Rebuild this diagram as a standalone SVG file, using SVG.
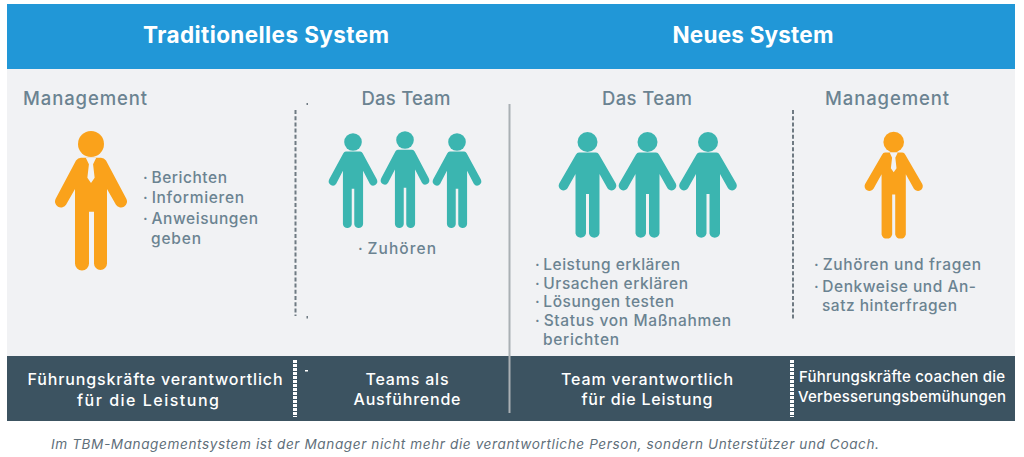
<svg xmlns="http://www.w3.org/2000/svg" xmlns:xlink="http://www.w3.org/1999/xlink" width="1024" height="457" viewBox="0 0 1024 457">
<style>
text{font-family:"Inter","Open Sans","Liberation Sans",sans-serif}
.h{font-size:22.5px;font-weight:700;fill:#fff;text-anchor:middle}
.c{font-size:18.5px;font-weight:500;fill:#6b8391;text-anchor:middle}
.c0{font-size:18.5px;font-weight:500;fill:#6b8391}
.b{font-size:15.5px;font-weight:500;fill:#6b8391}
.f{font-size:16px;font-weight:500;fill:#fff;text-anchor:middle}
.fs{font-size:15px}
.n{font-size:13.6px;font-style:italic;fill:#5f6f7a}
.o{fill:#faa21b}.t{fill:#3bb5b0}
.dash{fill:none;stroke:#6f7a82;stroke-width:2;stroke-dasharray:4 2.2}
.wd{fill:none;stroke:#fff;stroke-width:4;stroke-dasharray:3 1}
</style>
<defs>
<path id="body" d="M-8.5 10.5H8.5Q10.5 10.5 11.5 12.5L28.3 41.5A4.8 4.8 0 0 1 20 46.3L12 32V91.5A5.4 5.4 0 0 1 1.5 91.5V52H-1.5V91.5A5.4 5.4 0 0 1 -12 91.5V32L-20 46.3A4.8 4.8 0 0 1 -28.3 41.5L-11.500 12.5Q-10.5 10.5 -8.5 10.500Z"/>
<path id="tie" fill="#f1f2f4" d="M-4 10.5H4L1.6 15.5L2.8 26L0 30L-2.8 26L-1.6 15.5Z"/>
</defs>
<rect width="1024" height="457" fill="#fff"/>
<rect id="header" x="7" y="4" width="1008" height="65" fill="#2197d7"/>
<rect id="panel" x="7" y="69" width="1008" height="287" fill="#f1f2f4"/>
<rect id="footer" x="7" y="356" width="1008" height="65" fill="#3c5361"/>

<g id="connectors">
<path d="M509.5 104V413" stroke="#aab0b4" stroke-width="2" fill="none"/>
<path class="dash" d="M295.5 110V316"/>
<path class="dash" d="M793 110V320"/>
<path class="wd" d="M295 360V417"/>
<path class="wd" d="M792 360V417"/>
<rect x="306.500" y="103" width="1.500" height="2" fill="#6f7a82"/>
<rect x="306.500" y="316" width="1.500" height="2.500" fill="#6f7a82"/>
<rect x="305" y="370" width="3" height="1.500" fill="#fff"/>
</g>

<g id="title-left"><text class="h" x="266" y="43" textLength="246">Traditionelles System</text></g>
<g id="title-right"><text class="h" x="753" y="43" textLength="161">Neues System</text></g>

<g id="col-management-left">
<text class="c0" x="23" y="105" textLength="124">Management</text>
<g class="o">
<circle cx="91" cy="144" r="13"/>
<path d="M81 157.700H101Q104 157.700 106 160.500L126.200 198.500A6 6 0 0 1 115.800 204.500L107 189V263.500A6.500 6.500 0 0 1 94 263.500 V211.700H89V263.500A7 7 0 0 1 75 263.500V189L66.200 204.500A6 6 0 0 1 55.800 198.500L76 160.500Q78 157.700 81 157.700Z"/>
<use xlink:href="#tie" href="#tie" transform="translate(91 144) scale(1.3)"/>
</g>
<text class="b" x="143" y="183" textLength="84">·<tspan dx="-1.500"> Berichten</tspan></text>
<text class="b" x="143" y="203" textLength="101">·<tspan dx="-1.500"> Informieren</tspan></text>
<text class="b" x="143" y="224" textLength="115">·<tspan dx="-1.500"> Anweisungen</tspan></text>
<text class="b" x="151" y="244" textLength="50">geben</text>
<text class="f" x="155" y="385" textLength="255">Führungskräfte verantwortlich</text>
<text class="f" x="148" y="406" textLength="142">für die Leistung</text>
</g>

<g id="col-team-left">
<text class="c" x="406" y="105" textLength="89">Das Team</text>
<g class="t">
<circle cx="353" cy="142" r="8.800"/>
<circle cx="405" cy="140" r="8.800"/>
<circle cx="457" cy="142" r="8.800"/>
<use xlink:href="#body" href="#body" transform="translate(353 142) scale(.84 .9)"/>
<use xlink:href="#body" href="#body" transform="translate(405 140) scale(.84 .92)"/>
<use xlink:href="#body" href="#body" transform="translate(457 142) scale(.84 .9)"/>
</g>
<text class="b" x="358" y="254" textLength="78">·<tspan dx="-1.500"> Zuhören</tspan></text>
<text class="f" x="407" y="385" textLength="83">Teams als</text>
<text class="f" x="407" y="405" textLength="107">Ausführende</text>
</g>

<g id="col-team-right">
<text class="c" x="647" y="105" textLength="90">Das Team</text>
<g class="t">
<circle cx="587.500" cy="142" r="10"/>
<circle cx="647.500" cy="142" r="10"/>
<circle cx="708" cy="142" r="10"/>
<use xlink:href="#body" href="#body" transform="translate(587.500 142)"/>
<use xlink:href="#body" href="#body" transform="translate(647.500 142)"/>
<use xlink:href="#body" href="#body" transform="translate(708 142)"/>
</g>
<text class="b" x="535" y="270" textLength="145">·<tspan dx="-1.500"> Leistung erklären</tspan></text>
<text class="b" x="535" y="289" textLength="153">·<tspan dx="-1.500"> Ursachen erklären</tspan></text>
<text class="b" x="535" y="307" textLength="139">·<tspan dx="-1.500"> Lösungen testen</tspan></text>
<text class="b" x="535" y="326" textLength="196">·<tspan dx="-1.500"> Status von Maßnahmen</tspan></text>
<text class="b" x="543" y="345" textLength="76">berichten</text>
<text class="f" x="647" y="385" textLength="172">Team verantwortlich</text>
<text class="f" x="647" y="405" textLength="131">für die Leistung</text>
</g>

<g id="col-management-right">
<text class="c" x="887" y="105" textLength="124">Management</text>
<g class="o">
<circle cx="893.700" cy="142" r="10.300"/>
<use xlink:href="#body" href="#body" transform="translate(893.700 142) scale(1.01)"/>
<use xlink:href="#tie" href="#tie" transform="translate(893.700 142) scale(1.01)"/>
</g>
<text class="b" x="814" y="270" textLength="167">·<tspan dx="-1.500"> Zuhören und fragen</tspan></text>
<text class="b" x="814" y="292" textLength="162">·<tspan dx="-1.500"> Denkweise und An-</tspan></text>
<text class="b" x="822" y="311" textLength="135">satz hinterfragen</text>
<text class="f fs" x="902" y="382" textLength="206">Führungskräfte coachen die</text>
<text class="f fs" x="902" y="402" textLength="208">Verbesserungsbemühungen</text>
</g>

<g id="caption"><text class="n" x="51" y="449" textLength="828">Im TBM-Managementsystem ist der Manager nicht mehr die verantwortliche Person, sondern Unterstützer und Coach.</text></g>
</svg>
